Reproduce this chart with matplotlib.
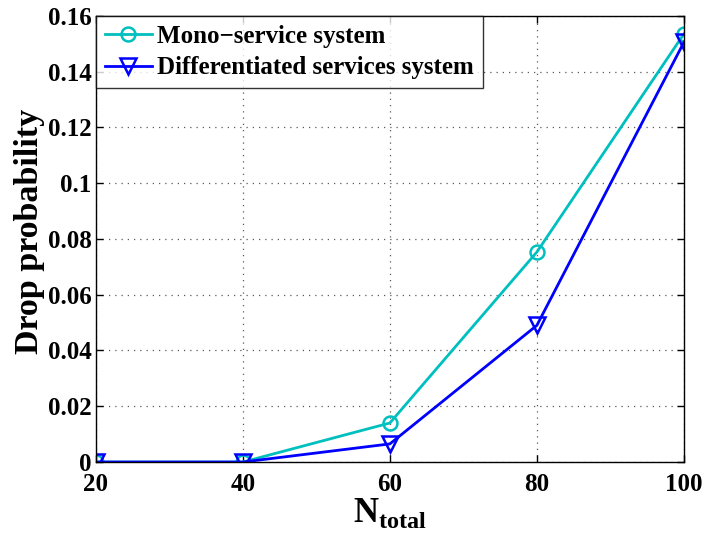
import matplotlib.pyplot as plt

# data
n_total = [20, 40, 60, 80, 100]
mono = [0.0, 0.0, 0.014, 0.0753, 0.1535]
diff = [0.0, 0.0, 0.0065, 0.049, 0.1505]

plt.rcParams['font.family'] = 'Liberation Serif'
plt.rcParams['font.weight'] = 'bold'
plt.rcParams['mathtext.fontset'] = 'custom'
plt.rcParams['mathtext.rm'] = 'Liberation Serif:bold'
plt.rcParams['mathtext.bf'] = 'Liberation Serif:bold'

fig = plt.figure(figsize=(7.05, 5.35), dpi=100)
ax = fig.add_axes([0.136, 0.1364, 0.834, 0.834])

ax.plot(n_total, mono, color=(0, 0.75, 0.75), lw=2, marker='o', ms=10,
        mfc='none', mew=1.8, label='Mono\u2212service system')
ax.plot(n_total, diff, color='blue', lw=2, marker='v', ms=11,
        mfc='none', mew=1.8, label='Differentiated services system')

ax.set_xlim(20, 100)
ax.set_ylim(0, 0.16)
ax.set_xticks(n_total)
ax.set_yticks([0, 0.02, 0.04, 0.06, 0.08, 0.1, 0.12, 0.14, 0.16])
ax.set_yticklabels(['0', '0.02', '0.04', '0.06', '0.08', '0.1', '0.12', '0.14', '0.16'])
ax.tick_params(direction='in', top=True, right=True, labelsize=18, length=5, width=1)
ax.tick_params(axis='x', pad=8)
ax.tick_params(axis='y', pad=3)
for s in ax.spines.values():
    s.set_linewidth(1)
ax.grid(True, linestyle=(0, (1, 4)), color='0.35', lw=0.9)
ax.set_axisbelow(True)

ax.set_ylabel('Drop probability', fontsize=24.5, fontweight='bold')
ax.yaxis.set_label_coords(-0.087, 0.518)
ax.set_xlabel(r'$\mathrm{N}_{\mathrm{total}}$', fontsize=25, labelpad=0)

leg = ax.legend(loc='upper left', fontsize=18, frameon=True, fancybox=False,
                edgecolor='black', borderaxespad=0, handlelength=1.9,
                handletextpad=0.2, borderpad=0.35, labelspacing=0.35)
leg.get_frame().set_linewidth(1)

fig.savefig('out.png', dpi=100)
